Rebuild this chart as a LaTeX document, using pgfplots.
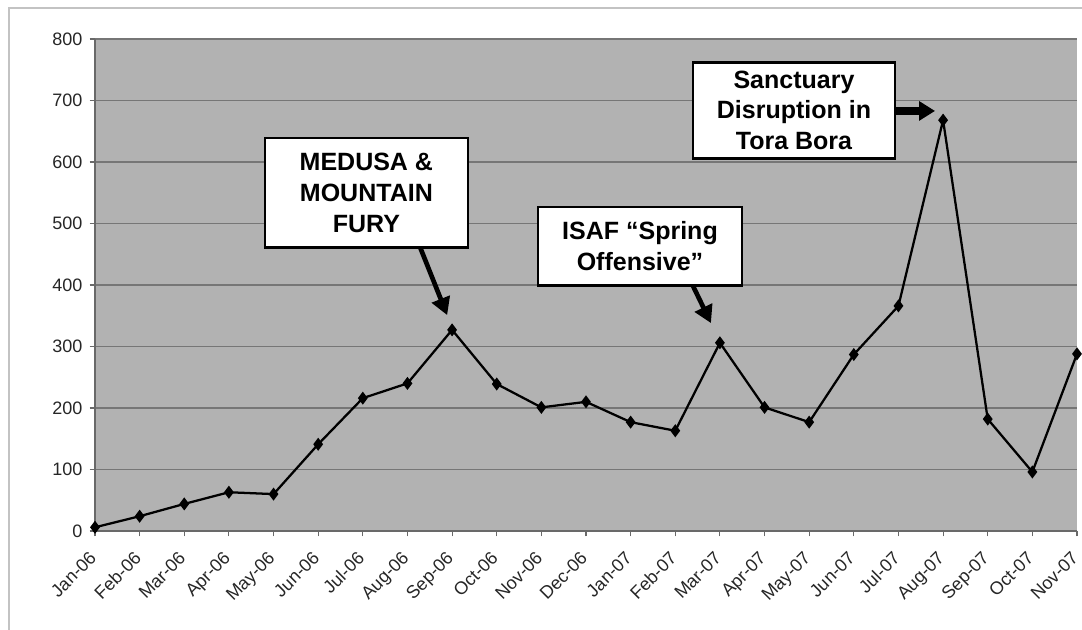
\documentclass[border=0pt]{standalone}
\usepackage{fontspec}
\setmainfont{Liberation Sans}
\usepackage{pgfplots}
\pgfplotsset{compat=1.18}
\usetikzlibrary{arrows.meta}
\definecolor{plotbg}{RGB}{178,178,178}
\definecolor{gridc}{RGB}{118,118,118}
\definecolor{axc}{RGB}{105,105,105}
\definecolor{framec}{RGB}{195,195,195}
\begin{document}
\begin{tikzpicture}
\path[use as bounding box] (-71.25pt,-74.25pt) rectangle (740.25pt,398.25pt);
\draw[framec, line width=1.5pt] (-64.5pt,-80pt) -- (-64.5pt,392.25pt) -- (745pt,392.25pt);
\begin{axis}[
  at={(0,0)}, anchor=south west, scale only axis,
  width=736.5pt, height=369pt,
  xmin=0, xmax=22, ymin=0, ymax=800,
  ytick={0,100,...,800},
  xtick={0,...,22},
  xticklabels={Jan-06,Feb-06,Mar-06,Apr-06,May-06,Jun-06,Jul-06,Aug-06,Sep-06,Oct-06,Nov-06,Dec-06,Jan-07,Feb-07,Mar-07,Apr-07,May-07,Jun-07,Jul-07,Aug-07,Sep-07,Oct-07,Nov-07},
  axis background/.style={fill=plotbg},
  axis x line*=bottom, axis y line*=left,
  ymajorgrids, major grid style={gridc, line width=1.1pt},
  tick style={axc, line width=0.8pt}, tick align=outside, major tick length=4pt,
  axis line style={axc, line width=0.8pt},
  tick label style={font=\fontsize{13.5}{15}\selectfont, text=black!85},
  xticklabel style={xshift=-5pt, rotate=45, anchor=north east, inner sep=1pt},
  xticklabel shift=9pt,
  yticklabel style={xshift=-2pt},
  /pgf/number format/assume math mode=true,
  clip=false,
]
\addplot[black, line width=1.7pt, mark=diamond*, mark size=3.5pt, mark options={solid, fill=black}] coordinates {
 (0,6) (1,24) (2,44) (3,63) (4,60) (5,141) (6,216) (7,240) (8,327) (9,239) (10,201) (11,210)
 (12,177) (13,163) (14,306) (15,201) (16,177) (17,287) (18,366) (19,668) (20,182) (21,96) (22,288)
};
\node[draw=black, line width=1.8pt, fill=white, align=center, font=\bfseries\fontsize{18.75}{23}\selectfont, minimum width=152pt, minimum height=82pt, inner sep=2pt] at (axis cs:6.08,550) {MEDUSA \&\\MOUNTAIN\\FURY};
\node[draw=black, line width=1.8pt, fill=white, align=center, font=\bfseries\fontsize{18.75}{23}\selectfont, minimum width=153pt, minimum height=59pt, inner sep=2pt] at (axis cs:12.21,463) {ISAF “Spring\\Offensive”};
\node[draw=black, line width=1.8pt, fill=white, align=center, font=\bfseries\fontsize{18.75}{23}\selectfont, minimum width=151.5pt, minimum height=72pt, inner sep=2pt] at (axis cs:15.66,684) {Sanctuary\\Disruption in\\Tora Bora};
\draw[-{Triangle[length=13pt,width=14pt]}, line width=3.5pt] (axis cs:7.28,462) -- (axis cs:7.89,351);
\draw[-{Triangle[length=13pt,width=14pt]}, line width=3.5pt] (axis cs:13.40,398) -- (axis cs:13.80,338);
\draw[-{Triangle[length=12pt,width=14pt]}, line width=6pt] (axis cs:17.92,683) -- (axis cs:18.82,683);
\end{axis}
\end{tikzpicture}
\end{document}
